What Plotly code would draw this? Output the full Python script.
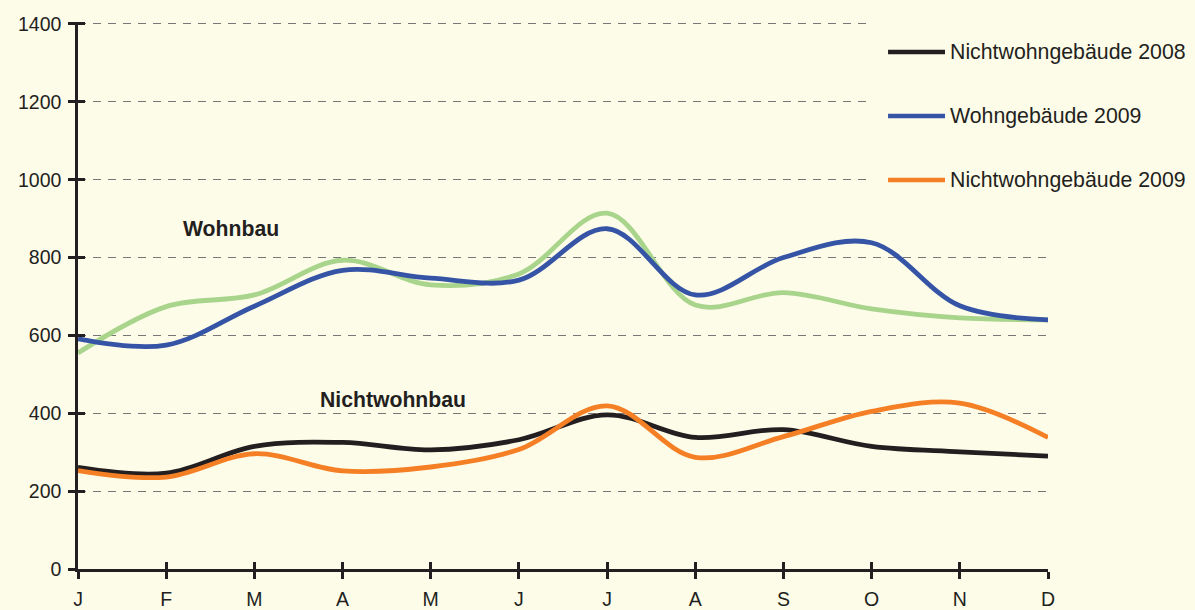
import plotly.graph_objects as go

# ---- data ----
months = ["J", "F", "M", "A", "M", "J", "J", "A", "S", "O", "N", "D"]
wohn_2008 = [555, 674, 704, 793, 730, 758, 914, 678, 710, 668, 645, 640]
wohn_2009 = [591, 575, 675, 767, 747, 742, 874, 704, 800, 838, 676, 640]
nichtwohn_2008 = [261, 246, 315, 325, 306, 332, 396, 338, 358, 315, 301, 290]
nichtwohn_2009 = [253, 236, 296, 252, 262, 307, 419, 287, 340, 405, 426, 338]
y_ticks = [0, 200, 400, 600, 800, 1000, 1200, 1400]

series_names = ["Wohngebäude 2008", "Nichtwohngebäude 2008", "Wohngebäude 2009", "Nichtwohngebäude 2009"]
series_vals = [wohn_2008, nichtwohn_2008, wohn_2009, nichtwohn_2009]
series_cols = ["#a8d48b", "#231f20", "#3554a5", "#f47f24"]
draw_order = [0, 2, 1, 3]

BG = "#fdfce9"
INK = "#231f20"
FONT = "Liberation Sans, Arial, sans-serif"

xs = list(range(len(months)))
Y_RANGE = [0, 1405]

fig = go.Figure()
for i in draw_order:
    fig.add_trace(go.Scatter(
        x=xs, y=series_vals[i], mode="lines", name=series_names[i],
        line=dict(color=series_cols[i], width=4.8, shape="spline", smoothing=1.0),
        showlegend=False, hoverinfo="skip"))

# empty trace on overlay axes (inside half of crossing ticks)
fig.add_trace(go.Scatter(x=[None], y=[None], xaxis="x2", yaxis="y2", showlegend=False, hoverinfo="skip"))

axis_common = dict(ticks="outside", ticklen=7, tickwidth=2.5, tickcolor=INK,
                   showline=True, linewidth=2.5, linecolor=INK, zeroline=False,
                   tickfont=dict(family=FONT, size=19.5, color=INK))

fig.update_layout(
    width=1195, height=610,
    paper_bgcolor=BG, plot_bgcolor=BG,
    margin=dict(l=78, r=147, t=22, b=41, autoexpand=False),
    xaxis=dict(range=[0, len(months) - 1], tickmode="array", tickvals=xs, ticktext=months,
               showgrid=False, ticklabelstandoff=4, **axis_common),
    yaxis=dict(range=Y_RANGE, tickmode="array", tickvals=y_ticks,
               showgrid=True, gridcolor="#777777", gridwidth=1.1, griddash="8px,7px",
               ticklabelstandoff=3, **axis_common),
    xaxis2=dict(overlaying="x", anchor="y", side="bottom", range=[0, len(months) - 1],
                tickmode="array", tickvals=xs, ticks="inside", ticklen=7, tickwidth=2.5,
                tickcolor=INK, showticklabels=False, showgrid=False, showline=False, zeroline=False),
    yaxis2=dict(overlaying="y", anchor="x", side="left", range=Y_RANGE,
                tickmode="array", tickvals=y_ticks, ticks="inside", ticklen=7, tickwidth=2.5,
                tickcolor=INK, showticklabels=False, showgrid=False, showline=False, zeroline=False),
)

# plot-area geometry in pixels (for placing the hand-made legend)
PL, PW, PT, PH = 78, 970, 22, 547
def px_x(px):
    return round((px - PL) / PW, 4)
def px_y(py):
    return round((PT + PH - py) / PH, 4)

# legend background covering gridlines at top right
shapes = [dict(type="rect", xref="paper", yref="paper", x0=px_x(868), x1=1.2,
               y0=px_y(196), y1=1.1, fillcolor=BG, line=dict(width=0), layer="above")]
annotations = []
leg_py = [-12, 52, 116, 180]
for i in range(4):
    yy = px_y(leg_py[i])
    shapes.append(dict(type="line", xref="paper", yref="paper", x0=px_x(888), x1=px_x(945),
                       y0=yy, y1=yy, line=dict(color=series_cols[i], width=4.5), layer="above"))
    annotations.append(dict(xref="paper", yref="paper", x=px_x(948), y=yy, text=series_names[i],
                            showarrow=False, xanchor="left", yanchor="middle",
                            font=dict(family=FONT, size=21.3, color=INK)))

annotations.append(dict(xref="paper", yref="paper", x=px_x(181), y=px_y(228), text="<b>Wohnbau</b>",
                        showarrow=False, xanchor="left", yanchor="middle",
                        font=dict(family=FONT, size=21.2, color=INK)))
annotations.append(dict(xref="paper", yref="paper", x=px_x(318), y=px_y(400), text="<b>Nichtwohnbau</b>",
                        showarrow=False, xanchor="left", yanchor="middle",
                        font=dict(family=FONT, size=21.2, color=INK)))

fig.update_layout(shapes=shapes, annotations=annotations)

fig.write_html("out.html", config={"displayModeBar": False},
               post_script="document.body.style.margin='0';document.body.style.background='%s';" % BG)
